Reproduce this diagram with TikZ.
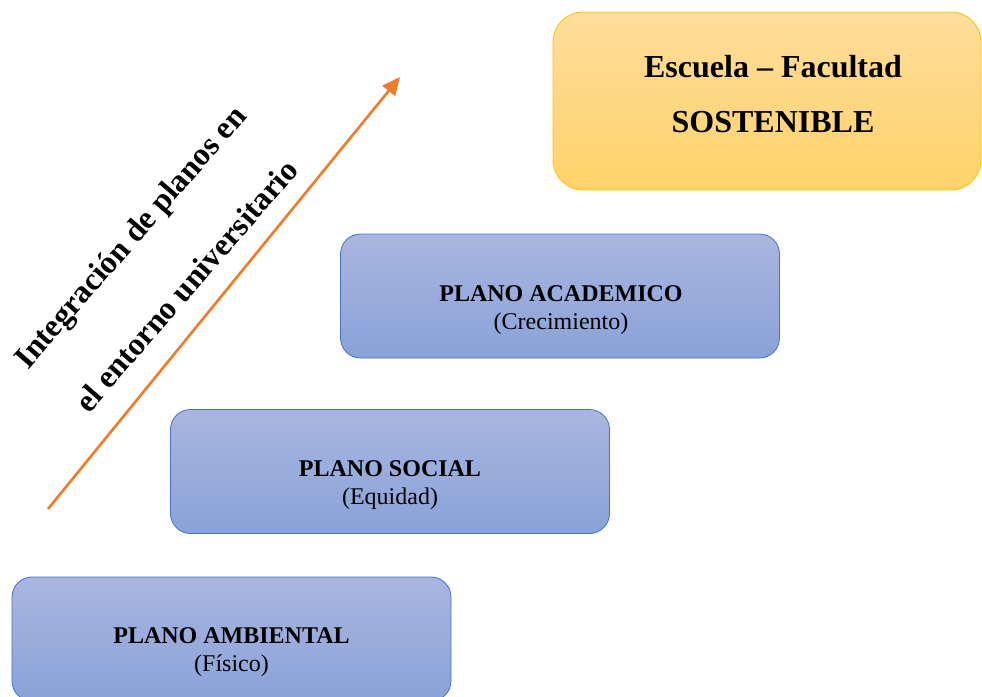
\documentclass[tikz,border=0pt]{standalone}
\usepackage{fontspec}
\setmainfont{Liberation Serif}
\usetikzlibrary{arrows.meta}
\definecolor{boxtop}{HTML}{A9B6DF}
\definecolor{boxbot}{HTML}{8AA2D8}
\definecolor{boxline}{HTML}{4472C4}
\definecolor{goldtop}{HTML}{FFDD9C}
\definecolor{goldbot}{HTML}{FFD26A}
\definecolor{goldline}{HTML}{FFC000}
\definecolor{arrowc}{HTML}{ED7D31}
\tikzset{
  plane/.style={draw=boxline, line width=0.8pt, rounded corners=20pt, top color=boxtop, bottom color=boxbot,
    minimum width=439pt, minimum height=124pt, align=center, inner sep=0pt},
  goal/.style={draw=goldline, line width=0.8pt, rounded corners=30pt, top color=goldtop, bottom color=goldbot,
    minimum width=428pt, minimum height=178pt, align=center, inner sep=0pt},
  bigt/.style={font=\fontsize{24}{28.5}\selectfont},
  rot/.style={font=\fontsize{32}{75}\selectfont\bfseries, align=center, rotate=49},
  updir/.style={draw=arrowc, line width=2.7pt, -{Triangle[length=18pt,width=16pt]}}
}
\begin{document}
\begin{tikzpicture}[x=1pt,y=-1pt]
\clip (0,0) rectangle (982,696);
\useasboundingbox (0,0) rectangle (982,696);
\node[goal] (goal) at (767,101) {};
\node[font=\fontsize{32}{55}\selectfont\bfseries, align=center] (goalt) at (773,94) {Escuela -- Facultad\\SOSTENIBLE};
\node[plane, bigt] (acad) at (560,296) {};
\node[bigt, align=center] (acadt) at (561,310) {\textbf{PLANO ACADEMICO}\\(Crecimiento)};
\node[plane, bigt] (soc) at (390,471.5) {};
\node[bigt, align=center] (soct) at (390,485) {\textbf{PLANO SOCIAL}\\(Equidad)};
\node[plane, bigt] (amb) at (231.5,639) {};
\node[bigt, align=center] (ambt) at (231.5,652) {\textbf{PLANO AMBIENTAL}\\(Físico)};
\coordinate (a0) at (48,509);
\coordinate (a1) at (400,77);
\draw[updir] (a0) -- (a1);
\node[rot] (lbl) at (158,261) {Integración de planos en\\el entorno universitario};
\end{tikzpicture}
\end{document}
